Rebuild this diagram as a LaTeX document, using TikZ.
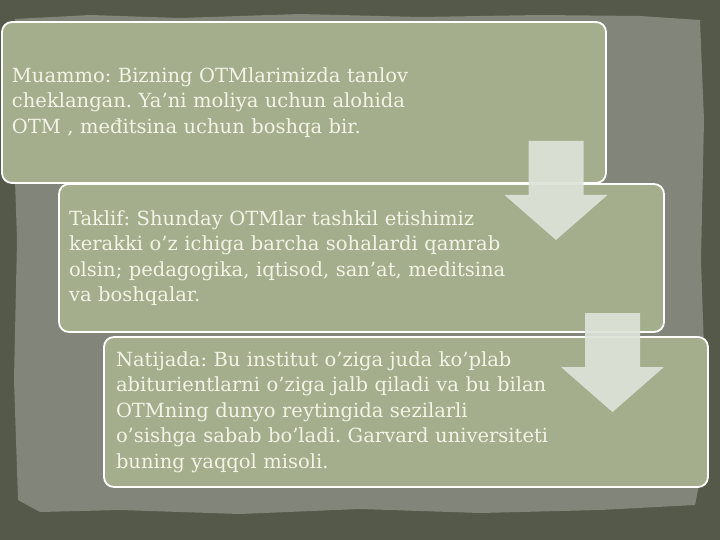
\documentclass[tikz,border=0pt]{standalone}
\usepackage{fontspec}
\setmainfont{DejaVu Serif}
\definecolor{bgdark}{HTML}{555949}
\definecolor{bgpaper}{HTML}{82867A}
\definecolor{boxfill}{HTML}{A4AD8C}
\definecolor{boxtext}{HTML}{F3F3E6}
\definecolor{arrowfill}{HTML}{DEE3D9}
\begin{document}
\frenchspacing
\begin{tikzpicture}[x = 1pt, y = -1pt,
  stepbox/.style = {draw = white, line width = 1.8pt, fill = boxfill,
    rounded corners = 10pt, text = boxtext, align = left,
    inner xsep = 10pt, inner ysep = 0pt,
    font = \fontsize{19.5}{25.5}\selectfont},
  downarrow/.pic = {
    \fill [arrowfill, opacity = 0.92] (-27.5,0) -- (27.5,0) -- (27.5,54)
      -- (51.5,54) -- (0,99) -- (-51.5,54) -- (-27.5,54) -- cycle;
  }]
\useasboundingbox (0,0) rectangle (720,540);
% background paper
\fill [bgdark] (0,0) rectangle (720,540);
\fill [bgpaper] (15,19) -- (90,15) -- (180,18) -- (300,14) -- (420,17) -- (540,15)
  -- (640,16) -- (700,20) -- (704,120) -- (701,260) -- (705,380) -- (702,470)
  -- (695,505) -- (600,510) -- (480,513) -- (360,509) -- (240,514) -- (120,510)
  -- (40,512) -- (18,500) -- (14,380) -- (17,240) -- (13,120) -- cycle;
% steps
\node [stepbox, minimum width = 604, minimum height = 161, text width = 584]
  (muammo) at (304,102.5)
  {Muammo: Bizning OTMlarimizda tanlov\\
   cheklangan. Ya’ni moliya uchun alohida\\
   OTM , međitsina uchun boshqa bir.};
\node [stepbox, minimum width = 605, minimum height = 148, text width = 585]
  (taklif) at (361.5,258)
  {Taklif: Shunday OTMlar tashkil etishimiz\\
   kerakki o’z ichiga barcha sohalardi qamrab\\
   olsin; pedagogika, iqtisod, san’at, meditsina\\
   va boshqalar.};
\node [stepbox, minimum width = 604, minimum height = 150, text width = 580,
  inner xsep = 12pt]
  (natija) at (406,412)
  {Natijada: Bu institut o’ziga juda ko’plab\\
   abiturientlarni o’ziga jalb qiladi va bu bilan\\
   OTMning dunyo reytingida sezilarli\\
   o’sishga sabab bo’ladi. Garvard universiteti\\
   buning yaqqol misoli.};
% arrows
\pic at (556,141) {downarrow};
\pic at (612.5,313) {downarrow};
\end{tikzpicture}
\end{document}
